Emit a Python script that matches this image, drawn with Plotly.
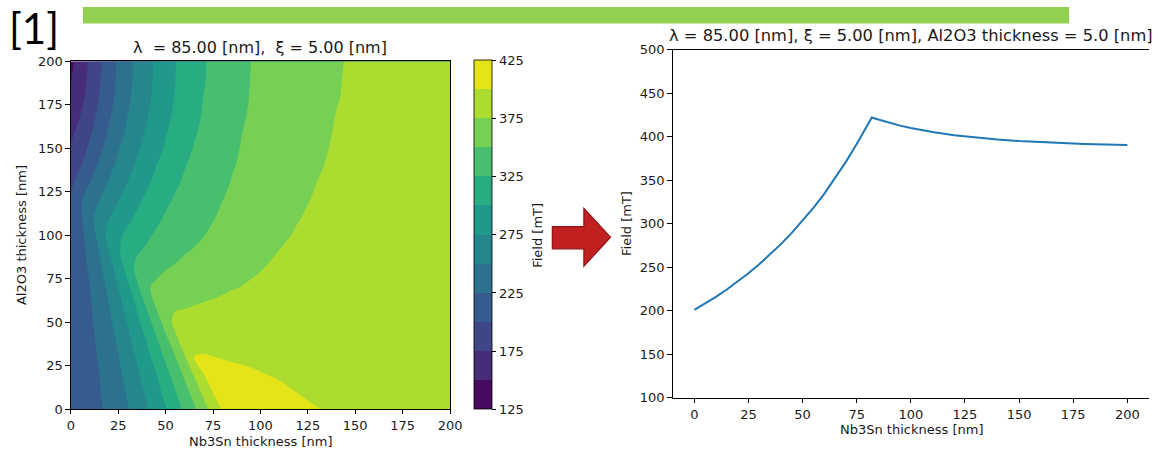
import plotly.graph_objects as go

# ---------------------------------------------------------------------------
# Field map: maximum field [mT] versus Nb3Sn thickness (x) and Al2O3 thickness (y)
# ---------------------------------------------------------------------------
nb3sn_nm = [0, 5, 10, 15, 20, 25, 30, 35, 40, 45, 50, 55, 60, 65, 70, 75, 80,
            85, 90, 95, 100, 110, 120, 130, 140, 150, 165, 180, 200]
al2o3_nm = [0, 10, 20, 30, 40, 50, 60, 70, 80, 90, 100, 110, 120, 130, 140,
            150, 160, 170, 180, 190, 200]

field_map_mT = [
    [201.0, 208.1, 215.1, 222.2, 230.4, 239.5, 248.6, 260.4, 272.8, 285.4, 298.0, 313.5, 329.5, 345.5, 365.0, 384.3, 402.8, 422.3, 419.5, 416.0, 412.5, 406.5, 403.5, 400.3, 398.5, 396.5, 394.5, 392.5, 390.8],
    [201.0, 208.5, 216.0, 223.5, 232.6, 242.2, 252.4, 265.5, 278.7, 291.8, 306.8, 323.6, 340.8, 359.9, 381.0, 401.3, 417.2, 414.1, 411.8, 409.0, 406.5, 402.8, 399.5, 398.0, 396.8, 395.0, 393.5, 392.0, 390.0],
    [201.0, 209.0, 217.0, 224.9, 235.2, 245.3, 257.4, 271.2, 285.1, 299.2, 317.0, 335.3, 354.5, 377.3, 399.9, 409.3, 407.2, 405.4, 403.8, 402.2, 400.7, 398.5, 397.2, 396.2, 395.0, 394.0, 392.5, 391.0, 389.5],
    [201.0, 209.6, 218.1, 227.2, 237.9, 248.7, 262.9, 277.7, 292.6, 309.8, 329.3, 348.8, 372.2, 401.0, 401.5, 400.1, 398.8, 397.8, 397.0, 396.5, 396.0, 395.3, 394.7, 394.3, 393.7, 393.0, 391.8, 390.5, 389.0],
    [201.0, 210.2, 219.5, 229.6, 241.1, 253.5, 269.3, 285.1, 301.3, 322.1, 343.2, 367.0, 392.3, 392.6, 392.6, 392.4, 392.2, 392.1, 392.0, 391.9, 391.8, 391.6, 391.3, 390.8, 390.3, 389.8, 389.3, 388.9, 388.5],
    [201.0, 211.0, 221.0, 232.4, 244.6, 259.5, 276.4, 293.5, 313.8, 336.4, 360.6, 383.0, 383.4, 383.8, 384.3, 384.7, 385.1, 385.7, 386.3, 386.9, 387.4, 388.3, 389.0, 389.0, 389.0, 388.8, 388.6, 388.3, 388.0],
    [201.0, 211.9, 222.8, 235.6, 248.9, 266.7, 284.8, 303.9, 328.5, 353.9, 367.8, 370.1, 372.3, 374.6, 376.0, 376.9, 378.0, 379.3, 380.6, 381.8, 383.0, 385.0, 386.7, 387.3, 387.8, 388.0, 388.0, 387.8, 387.6],
    [201.0, 213.0, 224.8, 239.4, 255.2, 274.8, 294.5, 319.6, 346.7, 354.9, 358.9, 362.0, 364.9, 367.3, 369.5, 371.2, 372.8, 374.2, 375.3, 376.8, 378.2, 381.2, 383.3, 384.6, 385.5, 386.1, 386.6, 386.9, 387.2],
    [201.0, 214.3, 228.1, 243.8, 263.2, 284.7, 308.3, 332.8, 338.6, 344.3, 349.9, 353.5, 356.8, 359.8, 362.5, 365.0, 367.2, 369.3, 371.2, 373.0, 374.6, 378.8, 381.3, 382.8, 383.8, 384.6, 385.7, 386.6, 387.1],
    [201.0, 215.8, 231.7, 249.3, 272.6, 295.8, 315.3, 323.4, 329.0, 334.0, 339.0, 344.0, 349.0, 352.1, 354.7, 357.4, 360.0, 362.6, 365.2, 367.9, 370.5, 375.6, 378.7, 380.8, 382.3, 383.5, 385.3, 386.5, 387.1],
    [201.0, 217.9, 236.3, 258.0, 283.9, 296.0, 305.1, 313.3, 321.5, 327.6, 332.0, 336.4, 340.8, 345.2, 349.6, 352.5, 355.3, 358.1, 360.9, 363.6, 366.4, 372.0, 376.9, 379.5, 381.3, 382.7, 385.0, 386.4, 387.1],
    [201.0, 220.7, 242.1, 261.6, 273.8, 284.5, 295.1, 304.4, 312.6, 320.8, 327.1, 331.6, 336.0, 340.4, 344.9, 349.3, 352.3, 355.1, 357.9, 360.6, 363.4, 368.9, 374.4, 378.6, 380.6, 382.2, 384.8, 386.3, 387.1],
    [201.0, 222.6, 236.4, 249.9, 262.1, 274.3, 284.9, 295.4, 304.6, 312.7, 320.9, 327.3, 331.8, 336.4, 340.9, 345.5, 349.9, 352.7, 355.5, 358.2, 361.0, 366.4, 371.9, 377.0, 379.6, 381.6, 384.5, 386.2, 387.1],
    [195.5, 209.9, 224.9, 238.7, 252.2, 264.2, 276.0, 286.5, 296.9, 305.7, 313.8, 321.9, 327.9, 332.6, 337.4, 342.1, 346.8, 350.9, 353.6, 356.3, 359.0, 364.5, 369.9, 375.2, 378.5, 381.0, 384.2, 386.1, 387.1],
    [185.5, 198.7, 213.7, 228.6, 242.5, 255.5, 267.4, 278.8, 289.2, 299.6, 307.7, 315.8, 323.9, 329.2, 334.1, 339.0, 343.9, 348.8, 352.0, 354.7, 357.4, 362.8, 368.2, 373.6, 377.6, 380.5, 383.9, 386.0, 387.2],
    [178.0, 190.6, 204.0, 219.8, 234.0, 248.1, 260.1, 271.9, 282.6, 292.9, 302.6, 310.6, 318.7, 326.1, 331.2, 336.3, 341.4, 346.4, 350.8, 353.5, 356.1, 361.5, 366.8, 372.2, 376.8, 380.0, 383.6, 385.9, 387.3],
    [169.0, 182.1, 196.3, 211.4, 226.7, 240.3, 254.2, 266.0, 277.5, 287.8, 298.1, 306.6, 314.6, 322.6, 328.7, 333.9, 339.1, 344.4, 349.6, 352.4, 355.1, 360.4, 365.7, 371.0, 376.0, 379.5, 383.3, 385.7, 387.4],
    [161.0, 174.2, 189.5, 205.0, 220.6, 235.3, 249.7, 261.4, 273.1, 283.7, 294.0, 303.4, 311.4, 319.4, 326.6, 331.9, 337.2, 342.6, 347.9, 351.6, 354.3, 359.6, 364.9, 370.2, 375.2, 379.0, 383.0, 385.5, 387.5],
    [154.0, 168.2, 183.8, 200.6, 216.3, 231.3, 245.7, 258.2, 269.9, 280.7, 290.9, 301.0, 309.0, 317.1, 325.1, 330.4, 335.8, 341.1, 346.5, 350.9, 353.5, 358.7, 363.8, 369.0, 374.1, 378.4, 382.5, 385.2, 387.6],
    [148.6, 164.0, 179.9, 197.5, 213.6, 229.0, 243.4, 256.3, 268.0, 279.1, 289.3, 299.6, 307.7, 315.7, 323.7, 329.5, 334.8, 340.1, 345.4, 350.4, 353.0, 358.2, 363.5, 368.7, 373.7, 378.0, 382.2, 385.0, 387.8],
    [145.0, 161.7, 178.6, 196.4, 212.7, 228.2, 242.5, 255.6, 267.3, 278.5, 288.7, 299.0, 307.2, 315.2, 323.2, 329.1, 334.3, 339.5, 344.8, 349.9, 352.6, 357.7, 362.9, 368.0, 373.2, 377.6, 382.0, 385.0, 388.0],
]

level_start, level_end, level_step = 125, 425, 25
colorbar_ticks = [125, 175, 225, 275, 325, 375, 425]
map_ticks = [0, 25, 50, 75, 100, 125, 150, 175, 200]

# ---------------------------------------------------------------------------
# Cut through the map at Al2O3 thickness = 5 nm
# ---------------------------------------------------------------------------
cut_nb3sn_nm = [0, 5, 10, 15, 20, 25, 30, 35, 40, 45, 50, 55, 60, 65, 70, 75,
                80, 82, 85, 90, 95, 100, 110, 120, 130, 140, 150, 160, 170,
                180, 190, 200]
cut_field_mT = [201.0, 208.2, 216.0, 224.4, 233.3, 243.0, 253.4, 264.5, 276.5,
                289.4, 303.3, 318.2, 334.2, 352.0, 371.0, 391.5, 413.0, 422.0,
                419.6, 415.9, 412.6, 409.8, 405.2, 401.6, 398.8, 396.6, 394.9,
                393.5, 392.4, 391.5, 390.8, 390.3]
cut_x_ticks = [0, 25, 50, 75, 100, 125, 150, 175, 200]
cut_y_ticks = [100, 150, 200, 250, 300, 350, 400, 450, 500]

# ---------------------------------------------------------------------------
# Styling
# ---------------------------------------------------------------------------
W, H = 1161, 458
FONT = "DejaVu Sans"
INK = "#1a1a1a"

# one viridis colour per filled band (band centres)
band_colors = ["#460b5e", "#472c7a", "#3f4587", "#365c8d", "#2c718e", "#25868e",
               "#1f9a8a", "#27ad81", "#48bf6e", "#76d053", "#addc30", "#e4e419"]
n_bands = len(band_colors)
n_lev = n_bands + 1

# contour fills are sampled at the band centres
fill_scale = [[0.0, band_colors[0]]]
for i, c in enumerate(band_colors):
    fill_scale.append([(i + 1) / n_lev, c])
fill_scale.append([1.0, band_colors[-1]])

# stepped scale for the colour bar, spanning exactly the level range
bar_scale = []
for i, c in enumerate(band_colors):
    bar_scale.append([i / n_bands, c])
    bar_scale.append([(i + 1) / n_bands, c])


def px(xp):
    return xp / W


def py(yp):
    return 1 - yp / H


fig = go.Figure()

fig.add_trace(go.Contour(
    x=nb3sn_nm, y=al2o3_nm, z=field_map_mT,
    autocontour=False,
    contours=dict(start=level_start, end=level_end, size=level_step,
                  coloring="fill", showlines=False),
    line=dict(width=0),
    colorscale=fill_scale,
    showscale=False,
    hoverinfo="skip",
    xaxis="x", yaxis="y",
))

# colour bar carrier (invisible marker)
fig.add_trace(go.Scatter(
    x=[100], y=[100], mode="markers",
    marker=dict(size=1, opacity=0, color=[level_start],
                colorscale=bar_scale, cmin=level_start, cmax=level_end,
                showscale=True,
                colorbar=dict(
                    x=px(476.5), xanchor="left", xpad=0,
                    y=py(235.5), yanchor="middle", ypad=0,
                    len=361 / H, lenmode="fraction",
                    thickness=18, thicknessmode="pixels",
                    outlinewidth=0.8, outlinecolor="black",
                    tickmode="array", tickvals=colorbar_ticks,
                    ticks="outside", ticklen=4.5, tickwidth=0.8,
                    tickcolor="black",
                    tickfont=dict(family=FONT, size=13, color=INK),
                )),
    hoverinfo="skip", showlegend=False,
    xaxis="x", yaxis="y",
))

fig.add_trace(go.Scatter(
    x=cut_nb3sn_nm, y=cut_field_mT, mode="lines",
    line=dict(color="#1f77b4", width=2),
    hoverinfo="skip", showlegend=False,
    xaxis="x2", yaxis="y2",
))

axis_common = dict(
    showgrid=False, zeroline=False, showline=True, linecolor="black",
    linewidth=0.8, ticks="outside", ticklen=4.5, tickwidth=0.8,
    tickcolor="black", tickfont=dict(family=FONT, size=13, color=INK),
    tickmode="array",
)

fig.update_layout(
    width=W, height=H,
    margin=dict(l=0, r=0, t=0, b=0),
    paper_bgcolor="white", plot_bgcolor="white",
    showlegend=False,
    xaxis=dict(domain=[px(67.7), px(452.3)], range=[0, 200],
               tickvals=map_ticks, mirror=True, anchor="y", **axis_common),
    yaxis=dict(domain=[py(415.7), py(56.3)], range=[0, 200],
               tickvals=map_ticks, mirror=True, anchor="x", **axis_common),
    xaxis2=dict(domain=[px(678), 1.0], range=[-10, 210],
                tickvals=cut_x_ticks, mirror=True, anchor="y2", **axis_common),
    yaxis2=dict(domain=[py(404), py(44)], range=[100, 500],
                tickvals=cut_y_ticks, mirror=False, anchor="x2", **axis_common),
)

texts = [
    ("λ\u00a0 = 85.00 [nm],\u00a0 ξ = 5.00 [nm]", 260, 41.5, 16, 0),
    ("λ = 85.00 [nm], ξ = 5.00 [nm], Al2O3 thickness = 5.0 [nm]", 920, 29.5, 16.3, 0),
    ("Nb3Sn thickness [nm]", 260, 449, 13, 0),
    ("Al2O3 thickness [nm]", 18, 236, 13, -90),
    ("Field [mT]", 541, 236, 13, -90),
    ("Nb3Sn thickness [nm]", 920, 437, 13, 0),
    ("Field [mT]", 631, 224, 13, -90),
]
for txt, xp, yp, size, ang in texts:
    fig.add_annotation(text=txt, x=px(xp), y=py(yp), xref="paper", yref="paper",
                       xanchor="center", yanchor="middle", showarrow=False,
                       textangle=ang, font=dict(family=FONT, size=size, color=INK))

# slide label
fig.add_annotation(text="[1]", x=px(3), y=py(22), xref="paper", yref="paper",
                   xanchor="left", yanchor="middle", showarrow=False,
                   font=dict(family="Lato", size=42, color="black"))

# green header bar
fig.add_shape(type="rect", xref="paper", yref="paper",
              x0=px(80), x1=px(1080), y0=py(17), y1=1.0,
              fillcolor="#92d050", line=dict(width=0), layer="above")

# red arrow between the panels
arrow_pts = [(556, 227), (588, 227), (588, 208), (615, 238), (588, 268),
             (588, 250), (556, 250)]
path = "M " + " L ".join(f"{px(a):.5f},{py(b):.5f}" for a, b in arrow_pts) + " Z"
fig.add_shape(type="path", xref="paper", yref="paper", path=path,
              fillcolor="#c0201f", line=dict(color="#8e1414", width=1.2),
              layer="above")

fig.write_html("out.html")
